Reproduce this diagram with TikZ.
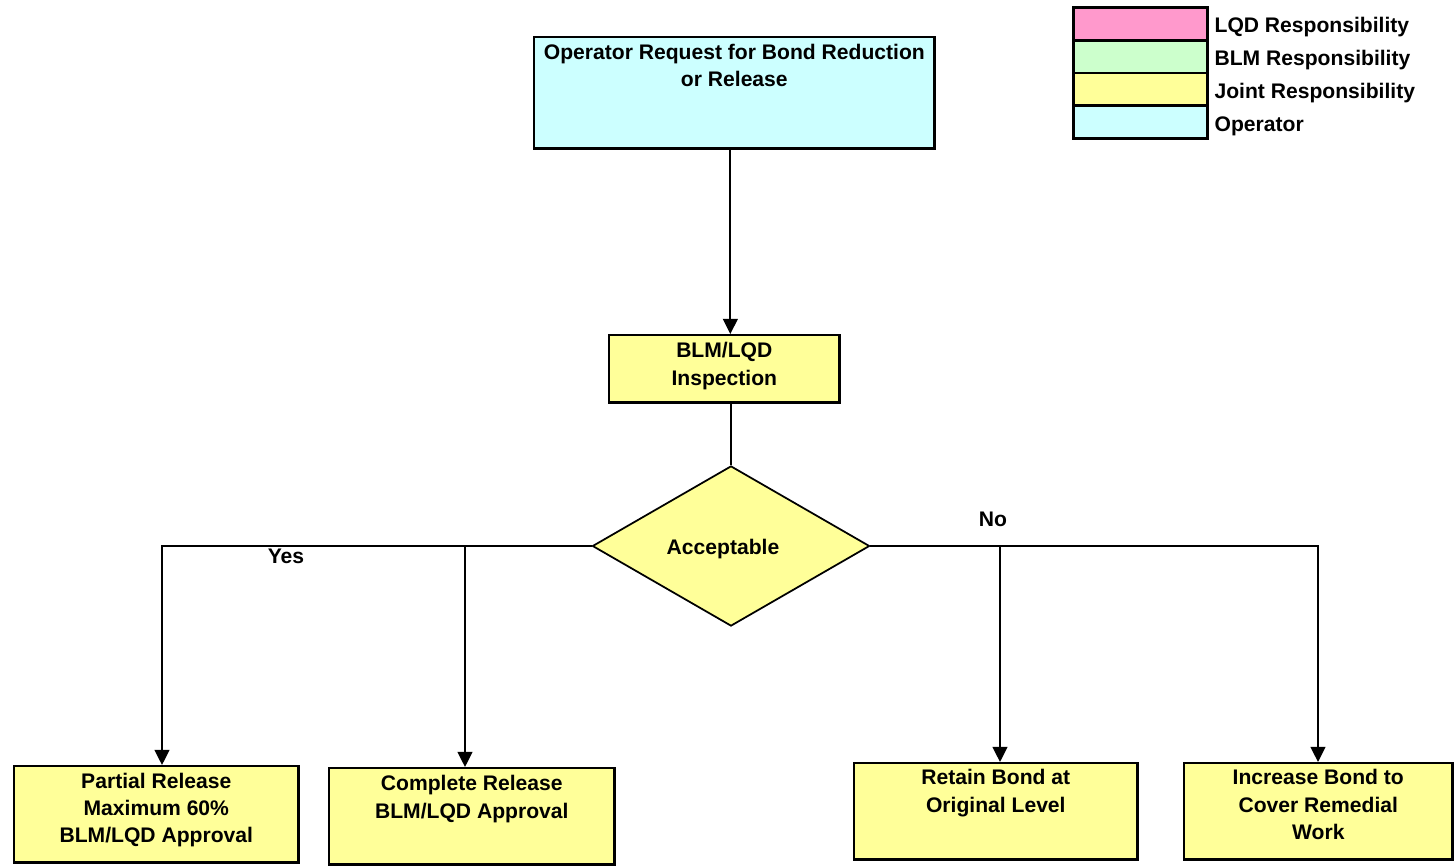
\documentclass[tikz,border=0pt]{standalone}
\usepackage{fontspec}
\setmainfont{Liberation Sans}
\usetikzlibrary{shapes.geometric,arrows.meta,positioning}

\definecolor{lqdpink}{HTML}{FF99CC}
\definecolor{blmgreen}{HTML}{CCFFCC}
\definecolor{jointyellow}{HTML}{FFFF99}
\definecolor{opcyan}{HTML}{CCFFFF}

% testo in alto nel riquadro: larghezza, altezza, prima riga, testo
\newcommand{\boxtext}[4]{\parbox[c][#2][t]{#1}{\centering\rule{0pt}{#3}#4}}

\begin{document}
\begin{tikzpicture}[x=0.01cm, y=-0.01cm,
    every node/.style={font=\fontsize{6}{7.8}\selectfont\bfseries},
    flowbox/.style={draw, line width=0.7pt, inner sep=0pt, anchor=north west},
    keybox/.style={draw, line width=0.8pt, inner sep=0pt, anchor=north west,
        minimum width=1.34cm, minimum height=0.33cm},
    link/.style={line width=0.5pt},
    arr/.style={link, -{Triangle[width=4.2pt,length=4.3pt]}}]
    \useasboundingbox (0,0) rectangle (1454,866);

    % Legenda dei colori
    \foreach \col/\txt [count=\i] in {lqdpink/LQD Responsibility, blmgreen/BLM Responsibility,
        jointyellow/Joint Responsibility, opcyan/Operator} {
        \node[keybox, fill=\col] (key\i) at (1072, {6+32.8*(\i-1)}) {};
        \node[anchor=base west, inner sep=0pt] (keytxt\i) at ([xshift=0.05cm, yshift=-2.5pt]key\i.east) {\txt};
    }

    % Richiesta e ispezione
    \node[flowbox, fill=opcyan] (req) at (533,36)
        {\boxtext{4cm}{1.11cm}{6.2pt}{Operator Request for Bond Reduction\\or Release}};
    \node[flowbox, fill=jointyellow] (insp) at (608,334)
        {\boxtext{2.3cm}{0.67cm}{6.35pt}{BLM/LQD\\Inspection}};

    % Decisione
    \node[draw, diamond, link, fill=jointyellow, minimum width=2.77cm, minimum height=1.6cm,
        inner sep=0pt] (dia) at (731,546) {};
    \node (acc) at (723,549) {Acceptable};

    % Esiti
    \node[flowbox, fill=jointyellow] (part) at (13,765)
        {\boxtext{2.84cm}{0.96cm}{6.2pt}{Partial Release\\Maximum 60\%\\BLM/LQD Approval}};
    \node[flowbox, fill=jointyellow] (comp) at (328,767)
        {\boxtext{2.85cm}{0.96cm}{6.4pt}{Complete Release\\BLM/LQD Approval}};
    \node[flowbox, fill=jointyellow] (ret) at (853,762)
        {\boxtext{2.83cm}{0.96cm}{6.15pt}{Retain Bond at\\Original Level}};
    \node[flowbox, fill=jointyellow] (incr) at (1183,762)
        {\boxtext{2.68cm}{0.96cm}{6.15pt}{Increase Bond to\\Cover Remedial\\Work}};

    % Collegamenti
    \coordinate (reqout) at ([xshift=-0.04cm]req.south);
    \draw[arr] (reqout) -- (reqout |- insp.north);
    \draw[link] (insp.south -| dia.north) -- (dia.north);

    \coordinate (yesA) at (162,546);
    \coordinate (yesB) at (465,546);
    \coordinate (noA) at (1000,546);
    \coordinate (noB) at (1318,546);
    \draw[arr] (dia.west) -- (yesA) -- (yesA |- part.north);
    \draw[arr] (yesB) -- (yesB |- comp.north);
    \draw[arr] (dia.east) -- (noB) -- (noB |- incr.north);
    \draw[arr] (noA) -- (noA |- ret.north);

    \node[anchor=base] (yes) at (286,563) {Yes};
    \node[anchor=base] (no) at (993,526) {No};
\end{tikzpicture}
\end{document}
